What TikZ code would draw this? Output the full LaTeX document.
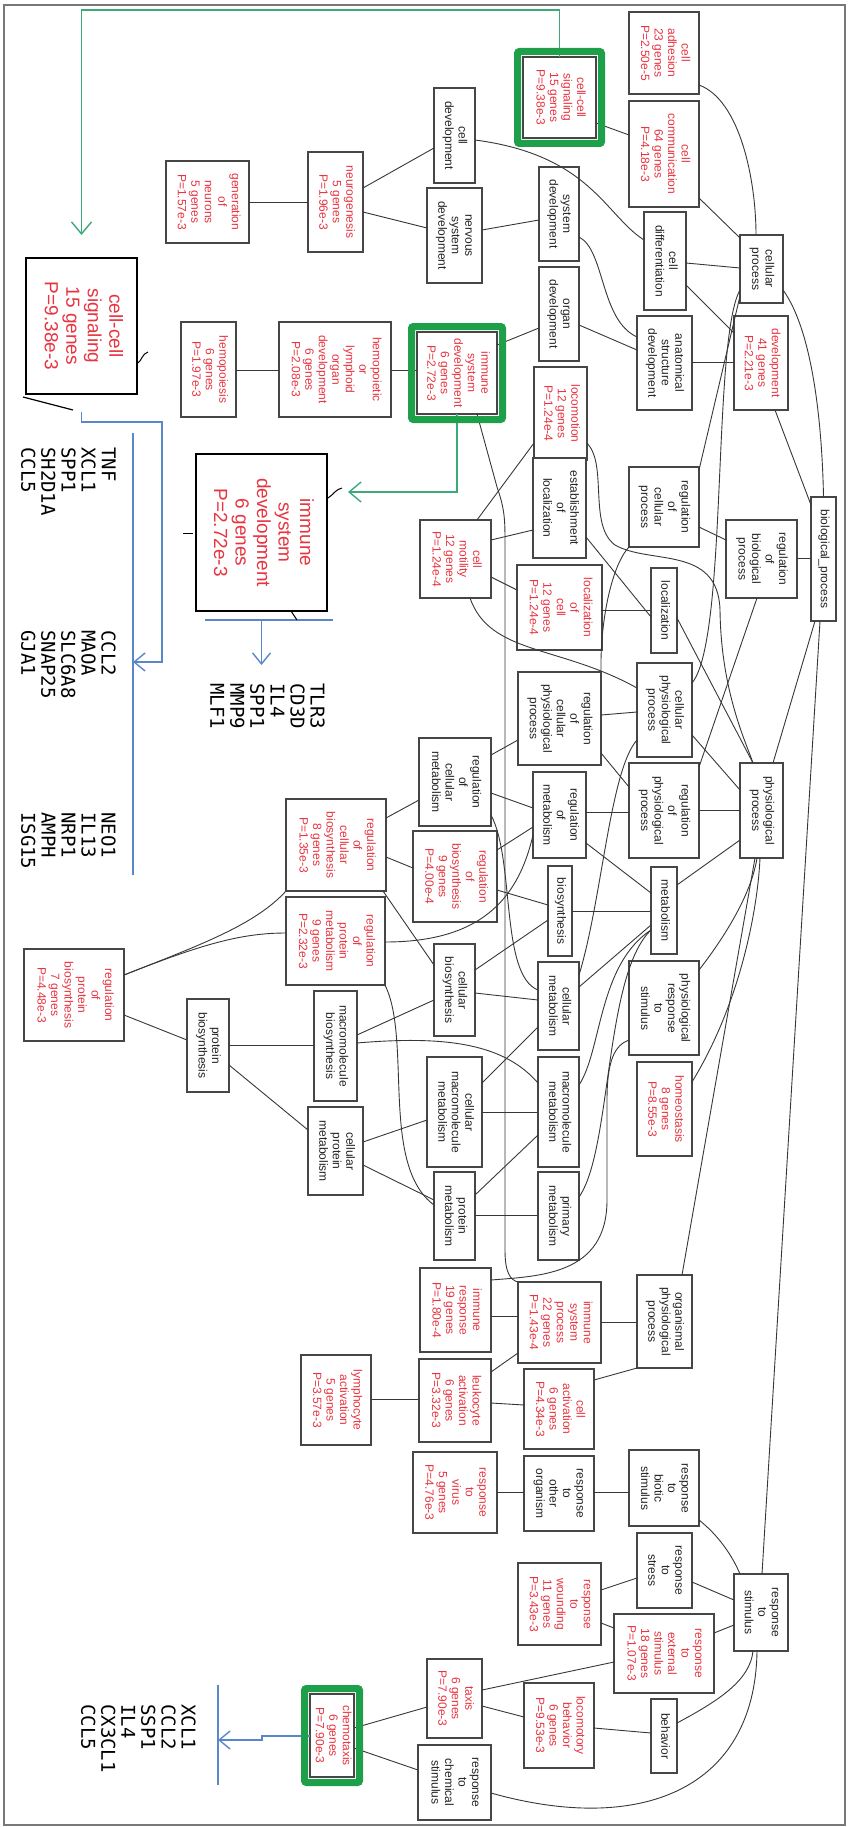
\documentclass[tikz,border=0pt]{standalone}
\usepackage{fontspec}
\setmainfont{Liberation Sans}
\newfontfamily\genefont{DejaVu Sans Mono}
\usepackage{graphicx}
\usetikzlibrary{arrows.meta}
\definecolor{hitred}{RGB}{232,52,64}
\definecolor{boxgray}{RGB}{70,70,70}
\definecolor{termtext}{RGB}{35,35,35}
\definecolor{edgegray}{RGB}{55,55,55}
\definecolor{hgreen}{RGB}{30,160,75}
\definecolor{tealgreen}{RGB}{60,170,120}
\definecolor{listblue}{RGB}{90,135,200}
\definecolor{framegray}{RGB}{120,120,120}

\begin{document}
\begin{tikzpicture}[x=1pt,y=-1pt,
    term/.style={draw=boxgray,fill=white,line width=1.1pt,inner sep=0pt,outer sep=0pt,text=termtext,font=\fontsize{12}{13.5}\selectfont},
    hit/.style={term,text=hitred},
    bighit/.style={draw=black,fill=white,line width=1.8pt,inner sep=0pt,outer sep=0pt,text=hitred,font=\fontsize{19}{21.5}\selectfont},
    goedge/.style={draw=edgegray,line width=0.9pt},
    hilite/.style={draw=hgreen,line width=7pt,rounded corners=2pt},
    goarrow/.style={draw=tealgreen,line width=1.4pt,-{Straight Barb[length=12pt,width=20pt]}},
    listarrow/.style={draw=listblue,line width=1.4pt,-{Straight Barb[length=11pt,width=18pt]}},
    listbar/.style={draw=listblue,line width=1.4pt},
    genes/.style={inner sep=0pt,anchor=north east,font=\genefont\fontsize{19}{20}\selectfont}]

\def\vt#1{\rotatebox{-90}{\begin{tabular}{@{}c@{}}#1\end{tabular}}}
\def\gobox#1#2#3#4#5#6#7{\node[#6,minimum width=#4pt-#2pt,minimum height=#5pt-#3pt] (#1) at ({(#2+#4)/2},{(#3+#5)/2}) {\vt{#7}};}

\useasboundingbox (0,0) rectangle (851,1827);
\draw[framegray,line width=2pt] (4,5) rectangle (845,1825);

% GO terms, top part
\gobox{genneur}{166}{161}{249}{243}{hit}{generation\\of\\neurons\\5 genes\\P=1.57e-3}
\gobox{neurogen}{308}{152}{363}{252}{hit}{neurogenesis\\5 genes\\P=1.96e-3}
\gobox{celldev}{434}{88}{475}{183}{term}{cell\\development}
\gobox{nervdev}{427}{188}{482}{283}{term}{nervous\\system\\development}
\gobox{ccsig}{523}{57}{596}{138}{hit}{cell-cell\\signaling\\15 genes\\P=9.38e-3}
\gobox{celladh}{629}{12}{699}{94}{hit}{cell\\adhesion\\23 genes\\P=2.50e-5}
\gobox{cellcomm}{629}{101}{699}{207}{hit}{cell\\communication\\64 genes\\P=4.18e-3}
\gobox{sysdev}{539}{167}{579}{261}{term}{system\\development}
\gobox{orgdev}{539}{267}{579}{361}{term}{organ\\development}
\gobox{celldiff}{644}{212}{686}{310}{term}{cell\\differentiation}
\gobox{cellproc}{740}{235}{783}{303}{term}{cellular\\process}
\gobox{anatdev}{637}{316}{692}{410}{term}{anatomical\\structure\\development}
\gobox{develop}{734}{316}{788}{410}{hit}{development\\41 genes\\P=2.21e-3}
\gobox{locomot}{534}{367}{587}{460}{hit}{locomotion\\12 genes\\P=1.24e-4}
\gobox{bigccsig}{26}{258}{137}{394}{bighit}{cell-cell\\signaling\\15 genes\\P=9.38e-3}
\gobox{hemopoiesis}{181}{322}{236}{417}{hit}{hemopoiesis\\6 genes\\P=1.97e-3}
\gobox{hemorgdev}{279}{322}{391}{417}{hit}{hemopoietic\\or\\lymphoid\\organ\\development\\6 genes\\P=2.08e-3}
\gobox{immdev}{417}{332}{497}{414}{hit}{immune\\system\\development\\6 genes\\P=2.72e-3}
\gobox{bigimmdev}{196}{454}{327}{611}{bighit}{immune\\system\\development\\6 genes\\P=2.72e-3}

% middle part
\gobox{estloc}{533}{458}{586}{558}{term}{establishment\\of\\localization}
\gobox{regcellproc}{629}{467}{699}{547}{term}{regulation\\of\\cellular\\process}
\gobox{regbioproc}{726}{520}{797}{598}{term}{regulation\\of\\biological\\process}
\gobox{bioproc}{811}{497}{836}{621}{term}{biological\_process}
\gobox{cellmot}{420}{520}{491}{598}{hit}{cell\\motility\\12 genes\\P=1.24e-4}
\gobox{loccell}{517}{565}{602}{650}{hit}{localization\\of\\cell\\12 genes\\P=1.24e-4}
\gobox{localiz}{651}{568}{677}{653}{term}{localization}
\gobox{cellphys}{637}{663}{692}{757}{term}{cellular\\physiological\\process}
\gobox{regcellphys}{518}{672}{601}{765}{term}{regulation\\of\\cellular\\physiological\\process}
\gobox{regphys}{629}{763}{699}{858}{term}{regulation\\of\\physiological\\process}
\gobox{physproc}{740}{763}{783}{858}{term}{physiological\\process}
\gobox{regcellmet}{419}{738}{491}{826}{term}{regulation\\of\\cellular\\metabolism}
\gobox{regmet}{533}{772}{586}{858}{term}{regulation\\of\\metabolism}
\gobox{regbiosyn}{413}{831}{497}{922}{hit}{regulation\\of\\biosynthesis\\9 genes\\P=4.00e-4}
\gobox{biosyn}{548}{866}{572}{956}{term}{biosynthesis}
\gobox{metab}{651}{867}{677}{954}{term}{metabolism}
\gobox{regcellbiosyn}{286}{799}{386}{891}{hit}{regulation\\of\\cellular\\biosynthesis\\8 genes\\P=1.35e-3}
\gobox{regprotmet}{286}{897}{385}{985}{hit}{regulation\\of\\protein\\metabolism\\9 genes\\P=2.32e-3}
\gobox{regprotbiosyn}{24}{949}{124}{1041}{hit}{regulation\\of\\protein\\biosynthesis\\7 genes\\P=4.48e-3}
\gobox{protbiosyn}{187}{999}{229}{1092}{term}{protein\\biosynthesis}
\gobox{macbiosyn}{314}{991}{357}{1101}{term}{macromolecule\\biosynthesis}
\gobox{cellprotmet}{308}{1107}{363}{1195}{term}{cellular\\protein\\metabolism}
\gobox{cellbiosyn}{434}{944}{475}{1036}{term}{cellular\\biosynthesis}
\gobox{cellmet}{538}{962}{579}{1050}{term}{cellular\\metabolism}
\gobox{physresp}{629}{961}{699}{1055}{term}{physiological\\response\\to\\stimulus}
\gobox{homeo}{637}{1062}{692}{1156}{hit}{homeostasis\\8 genes\\P=8.55e-3}
\gobox{cellmacmet}{427}{1057}{482}{1167}{term}{cellular\\macromolecule\\metabolism}
\gobox{macmet}{538}{1057}{579}{1167}{term}{macromolecule\\metabolism}
\gobox{protmet}{434}{1172}{475}{1260}{term}{protein\\metabolism}
\gobox{primmet}{538}{1172}{579}{1260}{term}{primary\\metabolism}
\gobox{immresp}{420}{1268}{491}{1352}{hit}{immune\\response\\19 genes\\P=1.80e-4}
\gobox{immproc}{518}{1282}{601}{1363}{hit}{immune\\system\\process\\22 genes\\P=1.43e-4}
\gobox{orgphys}{637}{1275}{692}{1368}{term}{organismal\\physiological\\process}

% bottom part
\gobox{leukact}{419}{1359}{491}{1442}{hit}{leukocyte\\activation\\6 genes\\P=3.32e-3}
\gobox{lymphact}{301}{1355}{371}{1445}{hit}{lymphocyte\\activation\\5 genes\\P=3.57e-3}
\gobox{cellact}{524}{1369}{594}{1449}{hit}{cell\\activation\\6 genes\\P=4.34e-3}
\gobox{respvirus}{413}{1452}{497}{1533}{hit}{response\\to\\virus\\5 genes\\P=4.76e-3}
\gobox{respother}{524}{1456}{594}{1531}{term}{response\\to\\other\\organism}
\gobox{respbiotic}{629}{1450}{699}{1526}{term}{response\\to\\biotic\\stimulus}
\gobox{respstress}{637}{1533}{692}{1608}{term}{response\\to\\stress}
\gobox{respwound}{518}{1563}{601}{1645}{hit}{response\\to\\wounding\\11 genes\\P=3.43e-3}
\gobox{respext}{614}{1614}{714}{1693}{hit}{response\\to\\external\\stimulus\\18 genes\\P=1.07e-3}
\gobox{respstim}{734}{1574}{788}{1651}{term}{response\\to\\stimulus}
\gobox{taxis}{427}{1659}{482}{1738}{hit}{taxis\\6 genes\\P=7.90e-3}
\gobox{locbehav}{524}{1683}{594}{1768}{hit}{locomotory\\behavior\\6 genes\\P=9.53e-3}
\gobox{behav}{651}{1699}{677}{1773}{term}{behavior}
\gobox{respchem}{418}{1745}{491}{1820}{term}{response\\to\\chemical\\stimulus}
\gobox{chemotax}{310}{1694}{354}{1777}{hit}{chemotaxis\\6 genes\\P=7.90e-3}

% is_a / part_of edges
\draw[goedge] (genneur.east |- 0,202) -- (neurogen.west |- 0,202);
\draw[goedge] (neurogen.east |- 0,188) -- (celldev.west |- 0,148);
\draw[goedge] (neurogen.east |- 0,212) -- (nervdev.west |- 0,228);
\draw[goedge] (celldev.east |- 0,140) .. controls (590,155) and (605,215) .. (celldiff.west |- 0,240);
\draw[goedge] (ccsig.east |- 0,123) -- (cellcomm.west |- 0,135);
\draw[goedge] (celladh.east |- 0,85) .. controls (740,100) and (756,180) .. (756,0 |- cellproc.north);
\draw[goedge] (cellcomm.east |- 0,198) -- (cellproc.west |- 0,238);
\draw[goedge] (nervdev.east |- 0,230) -- (sysdev.west |- 0,220);
\draw[goedge] (sysdev.east |- 0,237) .. controls (605,250) and (600,320) .. (anatdev.west |- 0,337);
\draw[goedge] (orgdev.east |- 0,325) -- (anatdev.west |- 0,350);
\draw[goedge] (immdev.east |- 0,345) -- (orgdev.west |- 0,328);
\draw[goedge] (celldiff.east |- 0,263) -- (cellproc.west |- 0,268);
\draw[goedge] (celldiff.east |- 0,285) -- (develop.west |- 0,333);
\draw[goedge] (anatdev.east |- 0,362) -- (develop.west |- 0,362);
\draw[goedge] (cellproc.east |- 0,290) .. controls (812,330) and (822,420) .. (bioproc.north);
\draw[goedge] (775,0 |- develop.south) -- (bioproc.west |- 0,505);
\draw[goedge] (hemopoiesis.east |- 0,370) -- (hemorgdev.west |- 0,370);
\draw[goedge] (hemorgdev.east |- 0,370) -- (immdev.west |- 0,370);
\draw[goedge] (477,0 |- cellmot.north) -- (locomot.west |- 0,443);
\draw[goedge] (cellmot.east |- 0,540) -- (estloc.west |- 0,530);
\draw[goedge] (cellmot.east |- 0,577) -- (loccell.west |- 0,590);
\draw[goedge] (470,0 |- cellmot.south) .. controls (490,655) and (560,645) .. (cellphys.west |- 0,688);
\draw[goedge] (estloc.east |- 0,537) -- (localiz.west |- 0,617);
\draw[goedge] (loccell.east |- 0,610) -- (localiz.west |- 0,610);
\draw[goedge] (locomot.east |- 0,443) .. controls (608,465) and (588,525) .. (615,545) .. controls (650,565) and (718,545) .. (720,610) .. controls (721,690) and (745,740) .. (753,0 |- physproc.north);
\draw[goedge] (regcellproc.east |- 0,470) -- (cellproc.west |- 0,296);
\draw[goedge] (cellphys.east |- 0,683) .. controls (728,640) and (712,340) .. (cellproc.west |- 0,290);
\draw[goedge] (regcellproc.east |- 0,527) -- (regbioproc.west |- 0,540);
\draw[goedge] (regbioproc.east |- 0,558) -- (bioproc.west |- 0,558);
\draw[goedge] (773,0 |- physproc.north) -- (815,0 |- bioproc.south);
\draw[goedge] (762,0 |- respstim.north) -- (820,0 |- bioproc.south);
\draw[goedge] (localiz.east |- 0,618) -- (753,0 |- physproc.north);
\draw[goedge] (regcellphys.north east) .. controls (600,620) and (612,565) .. (regcellproc.south west);
\draw[goedge] (regcellphys.east |- 0,715) -- (cellphys.west |- 0,712);
\draw[goedge] (regcellphys.east |- 0,753) -- (regphys.west |- 0,787);
\draw[goedge] (cellphys.east |- 0,735) -- (physproc.west |- 0,790);
\draw[goedge] (regphys.east |- 0,810) -- (physproc.west |- 0,810);
\draw[goedge] (regphys.east |- 0,767) -- (757,0 |- regbioproc.south);
\draw[goedge] (regmet.east |- 0,812) -- (regphys.west |- 0,812);
\draw[goedge] (regcellmet.east |- 0,755) -- (regcellphys.west |- 0,740);
\draw[goedge] (regcellmet.east |- 0,793) -- (regmet.west |- 0,808);
\draw[goedge] (regmet.east |- 0,843) -- (metab.west |- 0,893);
\draw[goedge] (metab.east |- 0,885) -- (physproc.west |- 0,840);
\draw[goedge] (cellmet.east |- 0,975) .. controls (602,900) and (610,770) .. (cellphys.west |- 0,740);
\draw[goedge] (regcellbiosyn.east |- 0,818) -- (regcellmet.west |- 0,800);
\draw[goedge] (regcellbiosyn.east |- 0,857) -- (regbiosyn.west |- 0,868);
\draw[goedge] (regbiosyn.east |- 0,850) -- (regmet.west |- 0,827);
\draw[goedge] (regbiosyn.east |- 0,890) -- (biosyn.west |- 0,905);
\draw[goedge] (regprotbiosyn.east |- 0,975) .. controls (200,945) and (240,933) .. (regprotmet.west |- 0,933);
\draw[goedge] (regprotbiosyn.east |- 0,975) .. controls (200,945) and (255,925) .. (regcellbiosyn.south west);
\draw[goedge] (regprotbiosyn.east |- 0,1015) -- (protbiosyn.west |- 0,1040);
\draw[goedge] (protbiosyn.east |- 0,1045) -- (macbiosyn.west |- 0,1045);
\draw[goedge] (protbiosyn.east |- 0,1065) -- (cellprotmet.west |- 0,1130);
\draw[goedge] (regprotmet.east |- 0,942) .. controls (480,942) and (518,900) .. (regmet.west |- 0,835);
\draw[goedge] (regprotmet.south east) .. controls (412,1040) and (380,1165) .. (protmet.west |- 0,1205);
\draw[goedge] (383,0 |- regcellbiosyn.south) -- (cellbiosyn.west |- 0,965);
\draw[goedge] (macbiosyn.east |- 0,1035) -- (cellbiosyn.west |- 0,1000);
\draw[goedge] (macbiosyn.east |- 0,1043) .. controls (450,1035) and (505,1045) .. (macmet.west |- 0,1083);
\draw[goedge] (cellbiosyn.east |- 0,970) -- (biosyn.west |- 0,920);
\draw[goedge] (cellbiosyn.east |- 0,993) -- (cellmet.west |- 0,1000);
\draw[goedge] (biosyn.east |- 0,911) -- (metab.west |- 0,911);
\draw[goedge] (cellprotmet.east |- 0,1142) -- (cellmacmet.west |- 0,1120);
\draw[goedge] (cellprotmet.east |- 0,1165) -- (protmet.west |- 0,1200);
\draw[goedge] (cellmacmet.east |- 0,1083) -- (cellmet.west |- 0,1027);
\draw[goedge] (cellmacmet.east |- 0,1112) -- (macmet.west |- 0,1112);
\draw[goedge] (protmet.east |- 0,1195) -- (macmet.west |- 0,1135);
\draw[goedge] (protmet.east |- 0,1215) -- (primmet.west |- 0,1215);
\draw[goedge] (cellmet.east |- 0,987) -- (metab.west |- 0,925);
\draw[goedge] (macmet.east |- 0,1085) .. controls (602,1050) and (598,965) .. (metab.west |- 0,930);
\draw[goedge] (primmet.east |- 0,1197) .. controls (612,1150) and (604,975) .. (metab.west |- 0,930);
\draw[goedge] (regcellmet.east |- 0,815) .. controls (515,860) and (500,975) .. (cellmet.west |- 0,990);
\draw[goedge] (477,0 |- immdev.south) -- (497,487) .. controls (505,510) and (505,520) .. (505,545) -- (505,1250) .. controls (505,1272) and (510,1280) .. (immproc.north west);
\draw[goedge] (immresp.east |- 0,1280) .. controls (540,1276) and (607,1275) .. (607,1200) -- (607,1100) .. controls (607,1060) and (615,1045) .. (physresp.west |- 0,1040);
\draw[goedge] (immresp.east |- 0,1316) -- (immproc.west |- 0,1316);
\draw[goedge] (immproc.east |- 0,1322) -- (orgphys.west |- 0,1322);
\draw[goedge] (682,0 |- orgphys.north) -- (755,0 |- physproc.south);
\draw[goedge] (physresp.east |- 0,970) .. controls (730,930) and (752,890) .. (757,0 |- physproc.south);
\draw[goedge] (homeo.east |- 0,1082) .. controls (742,1000) and (758,905) .. (760,0 |- physproc.south);
\draw[goedge] (leukact.east |- 0,1372) -- (immproc.west |- 0,1353);
\draw[goedge] (leukact.east |- 0,1403) -- (cellact.west |- 0,1405);
\draw[goedge] (lymphact.east |- 0,1399) -- (leukact.west |- 0,1399);
\draw[goedge] (cellact.east |- 0,1380) -- (orgphys.south west);
\draw[goedge] (respvirus.east |- 0,1492) -- (respother.west |- 0,1492);
\draw[goedge] (respother.east |- 0,1492) -- (respbiotic.west |- 0,1492);
\draw[goedge] (respbiotic.east |- 0,1520) .. controls (718,1535) and (732,1555) .. (740,0 |- respstim.north);
\draw[goedge] (respstress.east |- 0,1582) -- (respstim.west |- 0,1600);
\draw[goedge] (respwound.east |- 0,1590) -- (respstress.west |- 0,1578);
\draw[goedge] (respwound.east |- 0,1623) -- (respext.west |- 0,1628);
\draw[goedge] (respext.east |- 0,1633) -- (respstim.west |- 0,1625);
\draw[goedge] (taxis.east |- 0,1690) -- (respext.west |- 0,1662);
\draw[goedge] (taxis.east |- 0,1706) -- (locbehav.west |- 0,1717);
\draw[goedge] (locbehav.east |- 0,1728) -- (behav.west |- 0,1733);
\draw[goedge] (behav.east |- 0,1723) .. controls (720,1700) and (750,1680) .. (753,0 |- respstim.south);
\draw[goedge] (respchem.east |- 0,1793) .. controls (640,1835) and (755,1790) .. (757,0 |- respstim.south);
\draw[goedge] (chemotax.east |- 0,1728) -- (taxis.west |- 0,1707);
\draw[goedge] (chemotax.east |- 0,1748) -- (respchem.west |- 0,1770);

% zoom-out arrows and gene lists
\coordinate (cctip) at (81.5,235);
\coordinate (immtip) at (348,492);
\draw[goarrow] (ccsig.north) |- (81.5,10) -- (cctip);
\draw[goarrow] (immdev.south) |- (immtip);

\coordinate (bar1top) at (133,433);
\coordinate (bar1bot) at (133,875);
\coordinate (bar1hit) at (133,662);
\draw[listbar] (bar1top) -- (bar1bot);
\draw[listarrow] (bigccsig.south |- 0,412) |- (162,422) -- (162,662) -- (bar1hit);
\coordinate (bar2l) at (205,620);
\coordinate (bar2r) at (333,620);
\draw[listbar] (bar2l) -- (bar2r);
\draw[listarrow] (bigimmdev.south |- 0,620) -- (bigimmdev.south |- 0,665);
\coordinate (bar3top) at (218,1685);
\coordinate (bar3bot) at (218,1785);
\coordinate (bar3hit) at (218,1740);
\draw[listbar] (bar3top) -- (bar3bot);
\draw[listarrow] (chemotax.west |- 0,1736) -- (262,1736) -- (262,1740) -- (bar3hit);

% highlighted terms
\draw[hilite] ([xshift=-5.5pt,yshift=5.5pt]ccsig.north west) rectangle ([xshift=5.5pt,yshift=-5.5pt]ccsig.south east);
\draw[hilite] ([xshift=-5.5pt,yshift=5.5pt]immdev.north west) rectangle ([xshift=5.5pt,yshift=-5.5pt]immdev.south east);
\draw[hilite] ([xshift=-5.5pt,yshift=5.5pt]chemotax.north west) rectangle ([xshift=5.5pt,yshift=-5.5pt]chemotax.south east);

% leftover strokes of the cut-out
\draw[line width=1.2pt] (23,397) -- (73,410);
\draw[line width=1pt] (138,363) .. controls (142,360) and (142,354) .. (148,352);
\draw[line width=1pt] (328,498) .. controls (333,495) and (336,489) .. (342,488);
\draw[line width=1pt] (183,533) -- (193,533);
\draw[line width=1pt] (291,611) -- (297,620);

\node[genes] (genes1) at (116,447) {\rotatebox{-90}{\begin{tabular}{@{}l@{}}TNF\\XCL1\\SPP1\\SH2D1A\\CCL5\end{tabular}}};
\node[genes] (genes2) at (116,630) {\rotatebox{-90}{\begin{tabular}{@{}l@{}}CCL2\\MAOA\\SLC6A8\\SNAP25\\GJA1\end{tabular}}};
\node[genes] (genes3) at (116,812) {\rotatebox{-90}{\begin{tabular}{@{}l@{}}NEO1\\IL13\\NRP1\\AMPH\\ISG15\end{tabular}}};
\node[genes] (genes4) at (325,683) {\rotatebox{-90}{\begin{tabular}{@{}l@{}}TLR3\\CD3D\\IL4\\SPP1\\MMP9\\MLF1\end{tabular}}};
\node[genes] (genes5) at (196,1704) {\rotatebox{-90}{\begin{tabular}{@{}l@{}}XCL1\\CCL2\\SSP1\\IL4\\CX3CL1\\CCL5\end{tabular}}};
\end{tikzpicture}
\end{document}
